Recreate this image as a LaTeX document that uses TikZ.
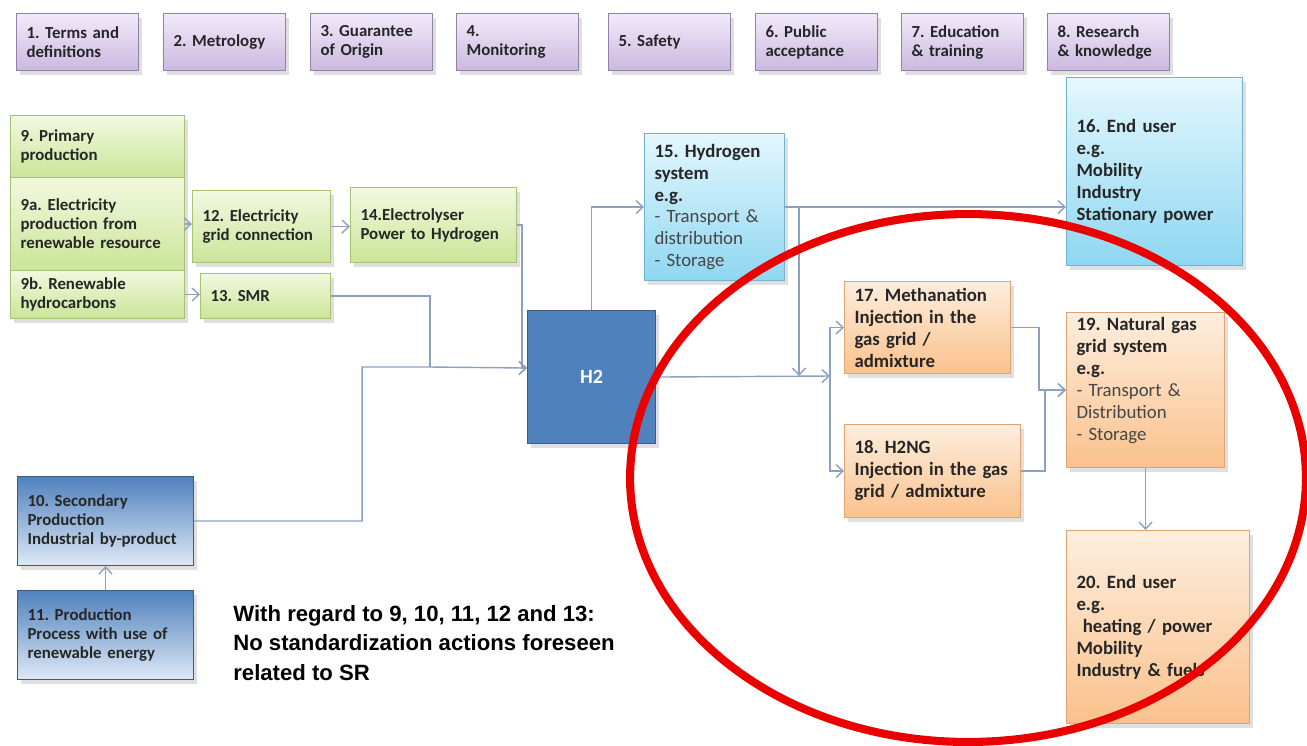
\documentclass[tikz,border=0pt]{standalone}
\usepackage{fontspec}
\setmainfont{Carlito}
\newfontfamily\arialfont{Liberation Sans}
\frenchspacing
\usetikzlibrary{arrows.meta,shadows}
\definecolor{purpletop}{RGB}{242,234,249}
\definecolor{purplebot}{RGB}{204,184,224}
\definecolor{purpleline}{RGB}{145,130,165}
\definecolor{greentop}{RGB}{242,249,224}
\definecolor{greenbot}{RGB}{202,229,152}
\definecolor{greenline}{RGB}{165,195,115}
\definecolor{cyantop}{RGB}{228,247,253}
\definecolor{cyanbot}{RGB}{142,215,241}
\definecolor{cyanline}{RGB}{115,178,205}
\definecolor{orangetop}{RGB}{253,238,222}
\definecolor{orangebot}{RGB}{250,193,140}
\definecolor{orangeline}{RGB}{222,165,115}
\definecolor{htwoblue}{RGB}{79,129,189}
\definecolor{htwoline}{RGB}{56,93,138}
\definecolor{palblue}{RGB}{222,233,246}
\definecolor{arrowblue}{RGB}{140,160,196}
\definecolor{textdark}{RGB}{38,38,38}
\definecolor{textgray}{RGB}{70,70,70}
\definecolor{ringred}{RGB}{235,0,0}
\tikzset{
    box/.style 2 args={draw, anchor=north west, line width=0.6pt,
        minimum width=#1*0.02cm, minimum height=#2*0.02cm,
        text width=#1*0.02cm-0.4cm, inner xsep=0.2cm, inner ysep=0pt,
        align=left, text=textdark,
        drop shadow={shadow xshift=0.06cm, shadow yshift=-0.08cm, opacity=0.25}},
    small/.style={font=\fontsize{9.6}{10.8}\selectfont\bfseries},
    large/.style={font=\fontsize{10.7}{12.5}\selectfont\bfseries},
    topic/.style={box={122}{57}, small, top color=purpletop, bottom color=purplebot, draw=purpleline},
    prod/.style 2 args={box={#1}{#2}, small, top color=greentop, bottom color=greenbot, draw=greenline},
    second/.style 2 args={box={#1}{#2}, small, top color=htwoblue, bottom color=palblue, draw=htwoline},
    hsys/.style 2 args={box={#1}{#2}, large, top color=cyantop, bottom color=cyanbot, draw=cyanline},
    gas/.style 2 args={box={#1}{#2}, large, top color=orangetop, bottom color=orangebot, draw=orangeline},
    link/.style={draw=arrowblue, line width=0.8pt},
    flow/.style={link, -{Straight Barb[length=1.4mm,width=2.6mm]}},
    note/.style={font=\arialfont\bfseries\fontsize{12.6}{17}\selectfont, align=left, inner sep=0pt}
}
\begin{document}
\begin{tikzpicture}[x=0.02cm,y=-0.02cm]
\useasboundingbox (0,0) rectangle (1307,745);
\clip (0,0) rectangle (1307,745);

% topics row
\node[topic] (t1) at (16,13) {1. Terms and\\definitions};
\node[topic] (t2) at (163,13) {2. Metrology};
\node[topic] (t3) at (310,13) {3. Guarantee\\of Origin};
\node[topic] (t4) at (456,13) {4.\\Monitoring};
\node[topic] (t5) at (608,13) {5. Safety};
\node[topic] (t6) at (755,13) {6. Public\\acceptance};
\node[topic] (t7) at (901,13) {7. Education\\\& training};
\node[topic] (t8) at (1047,13) {8. Research\\\& knowledge};

% production
\node[prod={174}{62}] (n9) at (10,115) {9. Primary\\production};
\node[prod={174}{93}] (n9a) at (10,177) {9a. Electricity\\production from\\renewable resource};
\node[prod={174}{48}] (n9b) at (10,270) {9b. Renewable\\hydrocarbons};
\node[prod={138}{72}] (n12) at (192,190) {12. Electricity\\grid connection};
\node[prod={166}{75}] (n14) at (350,187) {14.Electrolyser\\Power to Hydrogen};
\node[prod={130}{45}] (n13) at (200,273) {13. SMR};
\node[second={176}{89}] (n10) at (17,476) {10. Secondary\\Production\\Industrial by-product};
\node[second={176}{89}] (n11) at (17,590) {11. Production\\Process with use of\\renewable energy};

% hydrogen
\node[box={128}{133}, fill=htwoblue, draw=htwoline, align=center, text=white,
      font=\fontsize{11.5}{13}\selectfont\bfseries] (h2) at (527,310) {H2};
\node[hsys={140}{147}] (n15) at (644,133) {15. Hydrogen\\system\\e.g.\\{\mdseries\color{textgray}- Transport \&\\distribution\\- Storage}};
\node[hsys={176}{188}] (n16) at (1066,77) {16. End user\\e.g.\\Mobility\\Industry\\Stationary power};

% gas grid
\node[gas={166}{92}] (n17) at (844,281) {17. Methanation\\Injection in the\\gas grid /\\admixture};
\node[gas={176}{93}] (n18) at (844,424) {18. H2NG\\Injection in the gas\\grid / admixture};
\node[gas={158}{155}] (n19) at (1066,312) {19. Natural gas\\grid system\\e.g.\\{\mdseries\color{textgray}- Transport \&\\Distribution\\- Storage}\\\mbox{}};
\node[gas={183}{193}] (n20) at (1066,530) {20. End user\\e.g.\\\ heating / power\\Mobility\\Industry \& fuels};

\node[note, anchor=west] (remark) at (233,643) {With regard to 9, 10, 11, 12 and 13:\\No standardization actions foreseen\\related to SR};

% connectors
\coordinate (h2in) at ([yshift=0.18cm]h2.west);
\coordinate (mix) at (430,367);
\coordinate (split) at (830,376);
\draw[flow] (n9a.east) -- (n9a.east -| n12.west);
\draw[flow] (n12.east) -- (n12.east -| n14.west);
\draw[flow] (n9b.east) -- (n9b.east -| n13.west);
\draw[flow] (n14.east) -- ++(5,0) |- (h2in);
\draw[link] (n13.east) -| (mix);
\draw[flow] (n10.east) -- ++(168,0) |- (mix) -- (h2in);
\draw[flow] (n11.north) -- (n10.south);
\draw[flow] (h2.north) |- (n15.west);
\draw[flow] (n15.east) -- (n15.east -| n16.west);
\draw[flow] ([xshift=0.28cm]n15.east) -- ([xshift=0.28cm]n15.east |- split);
\draw[flow] (h2.east) -- (split);
\draw[flow] (split) |- (n17.west);
\draw[flow] (split) |- (n18.west);
\draw[flow] (n17.east) -- ++(28,0) |- (n19.west);
\draw[flow] (n18.east) -- ++(24,0) |- (n19.west);
\draw[flow] (n19.south) -- (n19.south |- n20.north);

% red ring
\draw[ringred, line width=4.6pt] (968,478) ellipse [x radius=6.76cm, y radius=5.28cm];
\end{tikzpicture}
\end{document}
